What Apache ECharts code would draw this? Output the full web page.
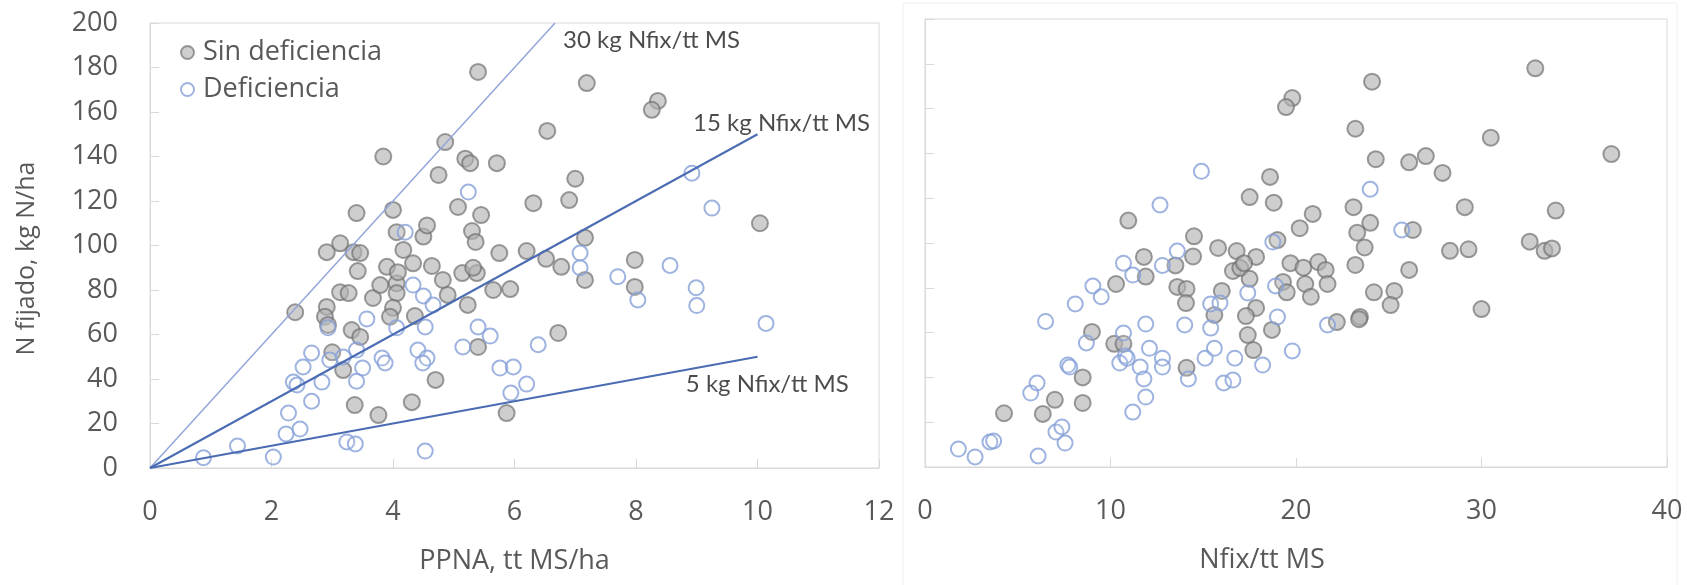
<!DOCTYPE html>
<html>
<head>
<meta charset="utf-8">
<script src="https://cdn.jsdelivr.net/npm/echarts@6/dist/echarts.min.js"></script>
<style>
html,body{margin:0;padding:0;background:#fff;}
#c{width:1687px;height:585px;}
</style>
</head>
<body>
<div id="c"></div>
<script>
// ---------- DATA ----------
const seriesNames = ['Sin deficiencia', 'Deficiencia'];
const xTitleLeft = 'PPNA, tt MS/ha';
const xTitleRight = 'Nfix/tt MS';
const yTitle = 'N fijado, kg N/ha';

// Left panel: PPNA (tt MS/ha) vs N fijado (kg N/ha)
const sinDefLeft = [
  [2.39,70],[2.91,97],[3.13,101],[3.35,97],[3.46,96.6],[3.42,88.5],[2.91,72.4],[2.88,68],[2.93,64.3],[3.0,52],
  [3.13,79],[3.27,78.6],[3.32,62],[3.46,58.9],[3.18,44],[3.37,28.3],[3.76,23.8],[4.31,29.6],[4.7,39.6],[3.67,76.4],
  [3.79,82.2],[3.9,90.4],[4.06,83],[4.08,88],[4.06,78.6],[4.0,72],[3.95,68],[4.33,92],[4.36,68.3],[4.5,104],
  [4.64,90.8],[4.82,84.5],[4.9,77.8],[4.17,98],[4.06,106],[5.14,87.6],[5.38,87.6],[5.32,90],[5.23,73.3],[5.4,54.4],
  [3.84,140],[4.86,146.5],[4.75,131.7],[5.19,139],[5.27,137],[4.0,116],[5.07,117.3],[3.4,114.6],[4.56,109],[5.45,113.7],
  [5.3,106.5],[5.36,101.6],[5.4,178],[7.19,173],[8.36,165],[8.26,161],[6.54,151.5],[5.71,137],[7.0,130],[6.9,120.4],
  [6.31,119],[10.04,110],[7.16,103.5],[5.75,96.6],[6.2,97.5],[6.52,94],[6.77,90.4],[7.98,93.5],[7.16,84.5],[7.98,81.4],
  [5.65,80],[5.93,80.4],[6.72,60.7],[5.87,24.7]
];
const defLeft = [
  [0.88,4.6],[1.44,9.9],[2.03,4.9],[2.24,15.3],[2.47,17.5],[2.28,24.7],[2.66,30],[2.83,38.6],[2.36,38.6],[2.42,37.3],
  [2.52,45.4],[2.66,51.7],[2.96,48.5],[3.18,49.9],[3.4,53],[3.5,44.9],[3.4,39],[3.24,11.7],[3.38,10.8],[3.57,67],
  [3.82,49.4],[3.87,47.2],[4.06,63],[4.2,106],[4.41,53],[4.56,49.4],[4.49,47.2],[4.53,63.4],[4.5,77.3],[4.66,73.3],
  [4.33,82.2],[4.53,7.6],[5.15,54.4],[5.4,63.4],[5.6,59.3],[5.24,124],[8.92,132.5],[9.25,116.8],[7.08,96.6],[7.08,90],
  [8.56,91],[7.7,86],[8.03,75.5],[8.99,81],[9.0,73],[10.14,65],[6.39,55.4],[5.76,44.9],[5.98,45.4],[6.2,37.7],
  [5.94,33.7],[2.93,63]
];

// Right panel: Nfix/tt MS vs N fijado (kg N/ha)
const sinDefRight = [
  [19.8,164.7],[19.46,160.7],[18.6,129.5],[17.5,120.5],[18.8,118],[10.96,110],[14.5,103],[15.8,97.8],[16.8,96.4],[17.85,93.8],
  [19.0,101.3],[32.9,178],[24.1,172],[23.2,151],[30.5,147],[37.0,139.7],[24.3,137.4],[26.1,136],[27.0,138.8],[27.9,131.3],
  [23.1,116],[29.1,116],[34.0,114.5],[20.9,113],[20.2,106.6],[24.0,109],[23.3,104.6],[26.3,105.8],[23.7,98],[28.3,96.5],
  [29.3,97.2],[32.6,100.6],[33.4,96.5],[33.8,97.6],[23.2,90.2],[26.1,88],[24.2,78],[25.3,78.6],[25.1,72.3],[30.0,70.5],
  [23.45,67],[23.4,66],[22.2,64.7],[19.7,91],[20.4,89],[21.2,91.5],[21.6,88],[21.7,81.7],[20.5,81.7],[20.8,76],
  [19.3,82.6],[19.5,78],[18.7,61.2],[4.26,24],[6.35,23.7],[7.0,30],[8.5,40],[8.5,28.6],[9.0,60.3],[10.3,81.7],
  [11.8,93.8],[11.9,85],[13.5,90],[14.45,94],[10.2,55],[10.7,55],[13.6,80.4],[14.1,79.5],[14.07,73.2],[14.1,44.3],
  [15.6,67.9],[16.0,78.6],[16.6,87.5],[17.0,88.8],[17.2,91],[17.5,84],[17.85,71],[17.3,67.4],[17.4,58.9],[17.7,52.2]
];
const defRight = [
  [14.9,132],[12.67,117],[18.75,100.4],[24.0,124],[25.7,105.8],[21.7,63.4],[19.0,67],[19.8,51.8],[18.2,45.5],[1.8,8],
  [2.7,4.5],[3.5,11.2],[3.7,11.6],[6.1,4.9],[7.06,15.6],[7.38,17.9],[7.55,10.7],[5.7,33],[6.04,37.5],[7.7,45.5],
  [7.8,44.6],[6.5,65],[8.1,72.8],[9.05,80.8],[9.5,76],[8.7,55.4],[10.7,91],[11.2,85.7],[12.8,90],[13.6,96.4],
  [10.7,59.8],[10.8,49.6],[10.5,46.4],[10.9,48.6],[11.9,63.8],[12.1,53],[11.6,44.6],[11.8,39.3],[11.9,31.2],[11.2,24.5],
  [12.8,48.6],[12.8,44.6],[14.0,63.4],[15.1,48.6],[15.6,53],[15.4,62],[15.4,72.8],[15.9,73.2],[16.1,37.5],[16.6,38.8],
  [16.7,48.6],[17.4,77.7],[18.9,80.8],[14.2,39.3]
];

// Reference lines (kg Nfix per tt MS) drawn from origin to end point
const refLineLabels = ['30 kg Nfix/tt MS', '15 kg Nfix/tt MS', '5 kg Nfix/tt MS'];
const refLineEnds = [[6.667,200],[10,150],[10,50]];
const refLabelAnchors = [[6.8,192.4],[8.94,155],[8.82,37.5]];

// Axis ticks
const leftXTicks = {min:0, max:12, interval:2};
const rightXTicks = {min:0, max:40, interval:10};
const yTicks = {min:0, max:200, interval:20};

// ---------- CHART ----------
const chart = echarts.init(document.getElementById('c'), null, {renderer:'canvas'});
const FONT = 'Open Sans';
const labelColor = '#595959';
const gridLine = '#d9d9d9';

const sinStyle = {color:'rgba(178,178,178,0.8)', borderColor:'rgba(110,110,110,0.85)', borderWidth:2};
const defStyle = {color:'rgba(255,255,255,0.15)', borderColor:'#86a0d8', borderWidth:2};

function xAxis(idx, t, name, pad){
  return {
    gridIndex: idx, type:'value', min:t.min, max:t.max, interval:t.interval,
    axisLine:{show:true, lineStyle:{color:gridLine}},
    axisTick:{show:true, inside:true, length:9, lineStyle:{color:gridLine}},
    splitLine:{show:false},
    axisLabel:{color:labelColor, fontFamily:FONT, fontSize:27, margin:31},
    name:name, nameLocation:'middle', nameGap:80,
    nameTextStyle:{color:labelColor, fontFamily:FONT, fontSize:27, padding:pad}
  };
}
function yAxis(idx, showLabels){
  return {
    gridIndex: idx, type:'value', min:yTicks.min, max:yTicks.max, interval:yTicks.interval,
    axisLine:{show:true, lineStyle:{color:gridLine}},
    axisTick:{show:true, inside:true, length:9, lineStyle:{color:gridLine}},
    splitLine:{show:false},
    axisLabel:{show:showLabels, color:labelColor, fontFamily:FONT, fontSize:27, margin:32},
    name: showLabels ? yTitle : '', nameLocation:'middle', nameGap:111,
    nameTextStyle:{color:labelColor, fontFamily:FONT, fontSize:25, padding:[0,26,0,0]}
  };
}

const series = [
  {name:seriesNames[0], type:'scatter', xAxisIndex:0, yAxisIndex:0, symbol:'circle', symbolSize:16,
   itemStyle:sinStyle, data:sinDefLeft, z:3},
  {name:seriesNames[1], type:'scatter', xAxisIndex:0, yAxisIndex:0, symbol:'circle', symbolSize:15,
   itemStyle:defStyle, data:defLeft, z:4},
  {name:seriesNames[0], type:'scatter', xAxisIndex:1, yAxisIndex:1, symbol:'circle', symbolSize:16,
   itemStyle:sinStyle, data:sinDefRight, z:3},
  {name:seriesNames[1], type:'scatter', xAxisIndex:1, yAxisIndex:1, symbol:'circle', symbolSize:15,
   itemStyle:defStyle, data:defRight, z:4}
];
const lineColors = ['#93a6da','#4b6cb3','#4b6cb3'];
const lineWidths = [1.5,2,2];
refLineEnds.forEach((end,i)=>{
  series.push({type:'line', xAxisIndex:0, yAxisIndex:0, data:[[0,0], end], symbol:'none',
    lineStyle:{color:lineColors[i], width:lineWidths[i]}, z:5, silent:true});
});
series.push({type:'scatter', xAxisIndex:0, yAxisIndex:0, symbolSize:0, silent:true, z:6,
  data: refLabelAnchors.map((p,i)=>({value:p, label:{formatter:refLineLabels[i]}})),
  label:{show:true, position:'right', distance:0, color:'#1e1e1e', fontFamily:'Lato', fontSize:24}
});

chart.setOption({
  animation:false,
  backgroundColor:'#ffffff',
  grid:[
    {left:150, top:23, width:729, height:445, show:true, borderColor:gridLine, borderWidth:1},
    {left:925, top:19, width:742, height:448, show:true, borderColor:gridLine, borderWidth:1}
  ],
  legend:{
    data:seriesNames, orient:'vertical', left:175, top:32, itemWidth:13, itemHeight:13, itemGap:6,
    textStyle:{color:labelColor, fontFamily:FONT, fontSize:27, lineHeight:31, padding:[0,0,0,4]},
    selectedMode:false
  },
  xAxis:[ xAxis(0, leftXTicks, xTitleLeft, [0,0,0,0]), xAxis(1, rightXTicks, xTitleRight, [0,68,0,0]) ],
  yAxis:[ yAxis(0, true), yAxis(1, false) ],
  graphic:[
    {type:'rect', shape:{x:903, y:3, width:774, height:600}, style:{fill:'none', stroke:'#efefef', lineWidth:1}, silent:true, z:-1}
  ],
  series:series
});
</script>
</body>
</html>
